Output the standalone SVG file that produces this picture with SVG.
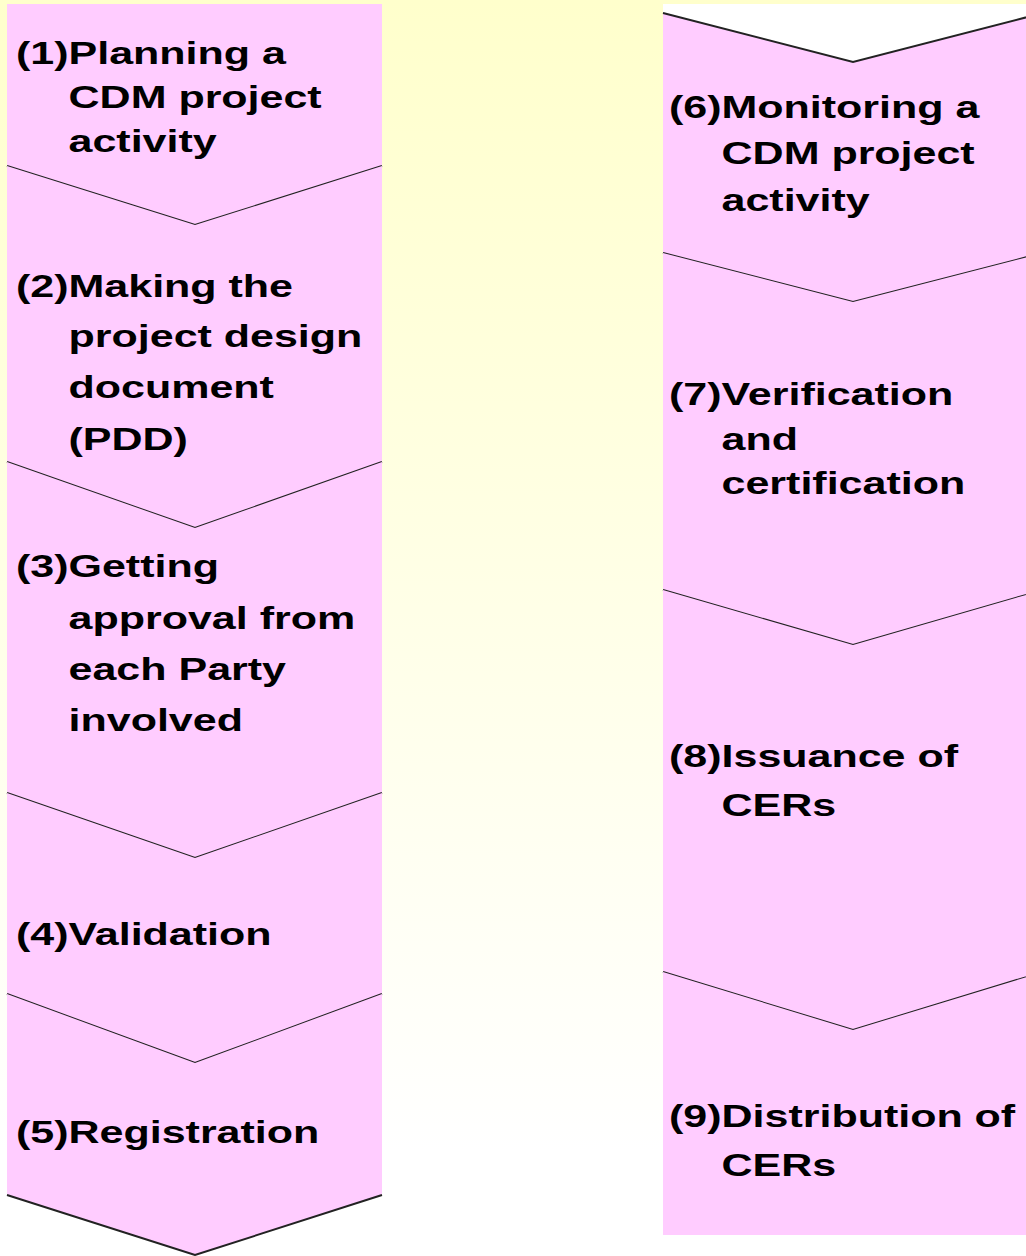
<svg xmlns="http://www.w3.org/2000/svg" width="1026" height="1256" viewBox="0 0 1026 1256">
  <defs>
    <linearGradient id="bg" x1="0" y1="0" x2="0" y2="1150" gradientUnits="userSpaceOnUse">
      <stop offset="0" stop-color="#FFFFCC"/>
      <stop offset="1" stop-color="#FFFFFF"/>
    </linearGradient>
    <style>
      .step { fill: #FFCCFF; stroke: none; }
      .edge { fill: none; stroke: #222222; stroke-width: 2; stroke-linejoin: miter; }
      .label { font-family: "Liberation Sans", Arial, Helvetica, sans-serif; font-weight: bold; font-size: 31px; fill: #000; }
    </style>
  </defs>

  <!-- page background -->
  <rect x="0" y="0" width="1026" height="1256" fill="url(#bg)"/>

  <!-- left column: steps 1-5 -->
  <g id="step1">
    <polygon class="step" points="7,4 382,4 382,166 195,225 7,166"/>
    <polyline class="edge" points="7,166 195,225 382,166"/>
    <g class="label" transform="translate(16,0) scale(1.387,1)">
      <text x="0" y="64">(1)Planning a</text>
      <text x="37.9" y="108">CDM project</text>
      <text x="37.9" y="152">activity</text>
    </g>
  </g>

  <g id="step2">
    <polygon class="step" points="7,166 195,225 382,166 382,462 195,528 7,462"/>
    <polyline class="edge" points="7,462 195,528 382,462"/>
    <g class="label" transform="translate(16,0) scale(1.387,1)">
      <text x="0" y="297">(2)Making the</text>
      <text x="37.9" y="347">project design</text>
      <text x="37.9" y="398">document</text>
      <text x="37.9" y="450">(PDD)</text>
    </g>
  </g>

  <g id="step3">
    <polygon class="step" points="7,462 195,528 382,462 382,793 195,858 7,793"/>
    <polyline class="edge" points="7,793 195,858 382,793"/>
    <g class="label" transform="translate(16,0) scale(1.387,1)">
      <text x="0" y="577">(3)Getting</text>
      <text x="37.9" y="629">approval from</text>
      <text x="37.9" y="680">each Party</text>
      <text x="37.9" y="731">involved</text>
    </g>
  </g>

  <g id="step4">
    <polygon class="step" points="7,793 195,858 382,793 382,994 195,1063 7,994"/>
    <polyline class="edge" points="7,994 195,1063 382,994"/>
    <g class="label" transform="translate(16,0) scale(1.387,1)">
      <text x="0" y="945">(4)Validation</text>
    </g>
  </g>

  <g id="step5">
    <polygon class="step" points="7,994 195,1063 382,994 382,1195 195,1255 7,1195"/>
    <polyline class="edge" points="7,1195 195,1255 382,1195"/>
    <g class="label" transform="translate(16,0) scale(1.387,1)">
      <text x="0" y="1143">(5)Registration</text>
    </g>
  </g>

  <!-- right column: steps 6-9 (runs past the right edge) -->
  <g id="step6">
    <polygon fill="#FFFFFF" points="663,4 1043,4 1043,13 853,62 663,13"/>
    <polygon class="step" points="663,13 853,62 1043,13 1043,253 853,302 663,253"/>
    <polyline class="edge" points="663,13 853,62 1043,13"/>
    <polyline class="edge" points="663,253 853,302 1043,253"/>
    <g class="label" transform="translate(669,0) scale(1.387,1)">
      <text x="0" y="118">(6)Monitoring a</text>
      <text x="37.9" y="164">CDM project</text>
      <text x="37.9" y="211">activity</text>
    </g>
  </g>

  <g id="step7">
    <polygon class="step" points="663,253 853,302 1043,253 1043,590 853,645 663,590"/>
    <polyline class="edge" points="663,590 853,645 1043,590"/>
    <g class="label" transform="translate(669,0) scale(1.387,1)">
      <text x="0" y="405">(7)Verification</text>
      <text x="37.9" y="450">and</text>
      <text x="37.9" y="494">certification</text>
    </g>
  </g>

  <g id="step8">
    <polygon class="step" points="663,590 853,645 1043,590 1043,972 853,1030 663,972"/>
    <polyline class="edge" points="663,972 853,1030 1043,972"/>
    <g class="label" transform="translate(669,0) scale(1.387,1)">
      <text x="0" y="767">(8)Issuance of</text>
      <text x="37.9" y="816">CERs</text>
    </g>
  </g>

  <g id="step9">
    <polygon class="step" points="663,972 853,1030 1043,972 1043,1235 663,1235"/>
    <g class="label" transform="translate(669,0) scale(1.387,1)">
      <text x="0" y="1127">(9)Distribution of</text>
      <text x="37.9" y="1176">CERs</text>
    </g>
  </g>
</svg>
